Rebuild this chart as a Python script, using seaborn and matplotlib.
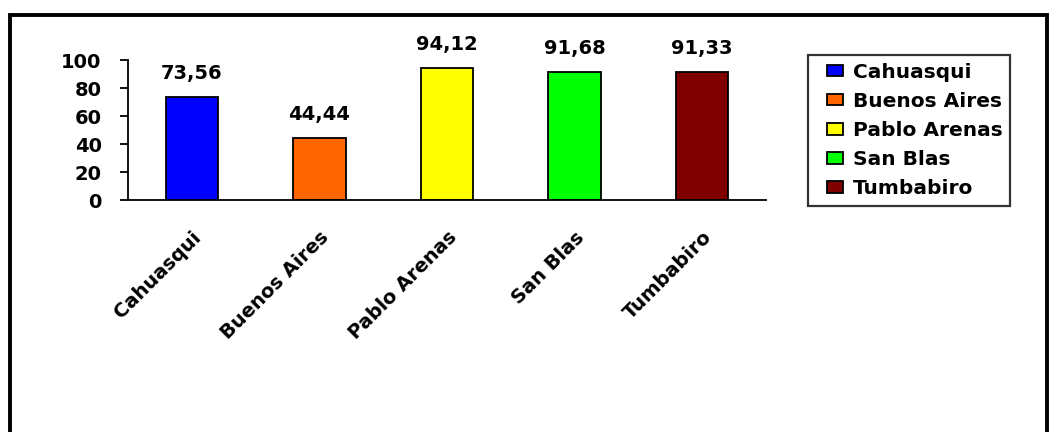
import matplotlib
matplotlib.use("Agg")
import matplotlib.pyplot as plt
from matplotlib.patches import Rectangle, Patch
from matplotlib.legend_handler import HandlerPatch
import seaborn as sns
import pandas as pd

# Data
communities = ["Cahuasqui", "Buenos Aires", "Pablo Arenas", "San Blas", "Tumbabiro"]
percentages = [73.56, 44.44, 94.12, 91.68, 91.33]
bar_colors = ["#0000FF", "#FF6600", "#FFFF00", "#00FF00", "#800000"]
y_ticks = [0, 20, 40, 60, 80, 100]

df = pd.DataFrame({"community": communities, "value": percentages})

sns.set_theme(style="white")
plt.rcParams["font.family"] = ["DejaVu Sans"]
plt.rcParams["font.weight"] = "bold"
plt.rcParams["text.color"] = "black"
plt.rcParams["xtick.color"] = "black"
plt.rcParams["ytick.color"] = "black"

W, H = 1056, 432
fig = plt.figure(figsize=(W / 100, H / 100), dpi=100)
ax = fig.add_axes([128 / W, 1 - 200 / H, (766 - 128) / W, (200 - 60) / H])

sns.barplot(data=df, x="community", y="value", hue="community",
            palette=bar_colors, saturation=1, dodge=False, width=0.41,
            edgecolor="black", linewidth=1.3, legend=False, ax=ax)

ax.set_xlim(-0.5, len(communities) - 0.5)
ax.set_ylim(0, 100)
ax.set_yticks(y_ticks)
ax.set_yticklabels([str(t) for t in y_ticks], fontsize=14, fontweight="bold")
ax.set_xlabel("")
ax.set_ylabel("")

# category labels at bar centres, tick marks at category boundaries
ax.set_xticks(range(len(communities)))
ax.set_xticklabels(communities, rotation=45, ha="right", rotation_mode="anchor",
                   fontsize=14, fontweight="bold")
ax.set_xticks([i - 0.5 for i in range(len(communities) + 1)], minor=True)
ax.tick_params(axis="x", which="major", length=0, pad=20)
ax.tick_params(axis="x", which="minor", length=6, width=1.3, color="black", direction="out")
ax.tick_params(axis="y", length=6, width=1.3, color="black", direction="out", pad=13,
               left=True)

for side in ["top", "right"]:
    ax.spines[side].set_visible(False)
for side in ["left", "bottom"]:
    ax.spines[side].set_color("black")
    ax.spines[side].set_linewidth(1.3)

# value labels
for i, v in enumerate(percentages):
    ax.annotate(f"{v:.2f}".replace(".", ","), (i, v), xytext=(0, 10),
                textcoords="offset points", ha="center", va="bottom",
                fontsize=14, fontweight="bold", annotation_clip=False)


# small square swatch drawn at the right end of the handle box
def swatch(legend, orig_handle, xdescent, ydescent, width, height, fontsize):
    w = fontsize * 0.8
    h = fontsize * 0.58
    return Rectangle((width - xdescent - w, -ydescent + (height - h) / 2), w, h)


handles = [Patch(facecolor=c, edgecolor="black", linewidth=1.3) for c in bar_colors]
leg = fig.legend(handles, communities, loc="upper left",
                 bbox_to_anchor=(808 / W, 1 - 55 / H),
                 frameon=True, fancybox=False,
                 prop={"size": 14.5, "weight": "bold"},
                 handler_map={Patch: HandlerPatch(patch_func=swatch)},
                 handlelength=1.35, handleheight=0.6, handletextpad=0.5,
                 labelspacing=0.5, borderpad=0.38, borderaxespad=0)
leg.get_frame().set_linewidth(1.6)
leg.get_frame().set_edgecolor("black")

# outer chart frame
fig.patches.append(Rectangle((10 / W, -0.2), (1047 - 10) / W, 1.2 - 15 / H,
                             transform=fig.transFigure, fill=False,
                             edgecolor="black", linewidth=2.8))

fig.savefig("out.png", dpi=100, facecolor="white")
